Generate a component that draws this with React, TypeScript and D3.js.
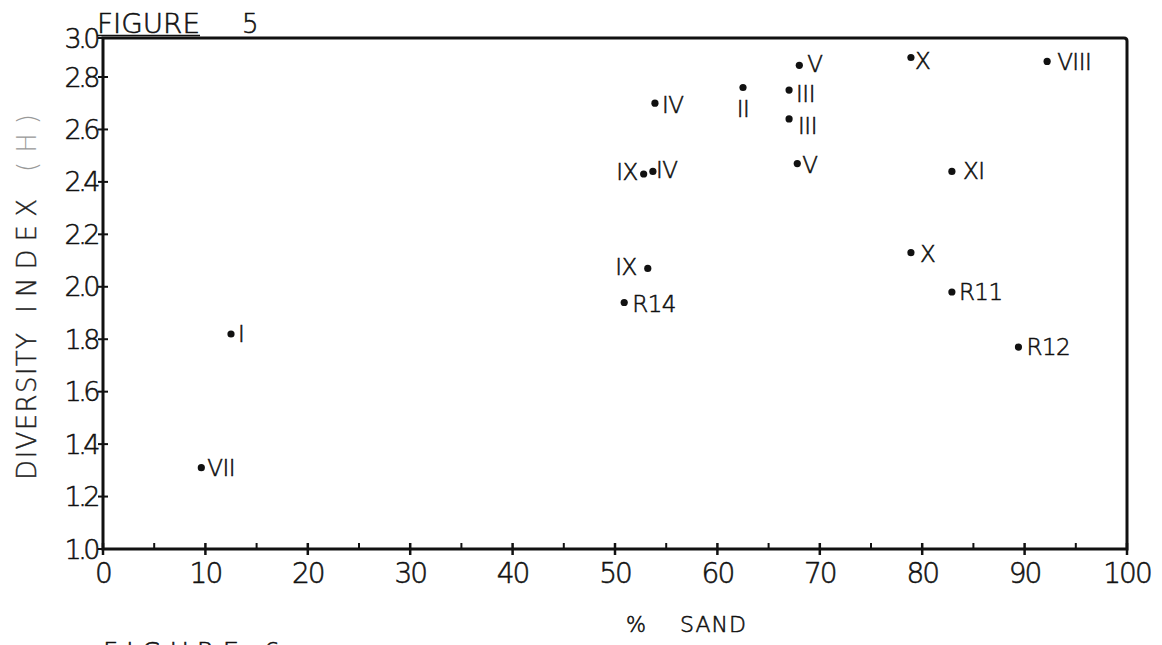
import React from "react";
import * as d3 from "d3";

// ---- data ----
const stationLabels = ["I", "VII", "IV", "II", "V", "III", "III", "V", "IX", "IV", "IX", "R14", "X", "R11", "R12", "X", "VIII", "XI"];
const sandPct = [12.5, 9.6, 53.9, 62.5, 68.0, 67.0, 67.0, 67.8, 52.8, 53.7, 53.2, 50.9, 78.9, 82.9, 89.4, 78.9, 92.2, 82.9];
const diversityH = [1.82, 1.31, 2.70, 2.76, 2.86, 2.75, 2.64, 2.47, 2.43, 2.44, 2.07, 1.94, 2.13, 1.98, 1.77, 2.90, 2.88, 2.44];

const xTickValues = [0, 10, 20, 30, 40, 50, 60, 70, 80, 90, 100];
const xMinorTickValues = [5, 15, 25, 35, 45, 55, 65, 75, 85, 95];
const yTickValues = [1.0, 1.2, 1.4, 1.6, 1.8, 2.0, 2.2, 2.4, 2.6, 2.8, 3.0];
const yTickLabels = ["1.0", "1.2", "1.4", "1.6", "1.8", "2.0", "2.2", "2.4", "2.6", "2.8", "3.0"];

// label placement for each point (layout only)
const labelPlacement: { dx: number; dy: number; anchor: "start" | "end" | "middle" }[] = [
  { dx: 7, dy: 0, anchor: "start" },
  { dx: 6, dy: 0, anchor: "start" },
  { dx: 7, dy: 1, anchor: "start" },
  { dx: 0, dy: 21, anchor: "middle" },
  { dx: 8, dy: -2, anchor: "start" },
  { dx: 7, dy: 4, anchor: "start" },
  { dx: 9, dy: 7, anchor: "start" },
  { dx: 5, dy: 1, anchor: "start" },
  { dx: -6, dy: -2, anchor: "end" },
  { dx: 3, dy: -2, anchor: "start" },
  { dx: -11, dy: -2, anchor: "end" },
  { dx: 8, dy: 1, anchor: "start" },
  { dx: 9, dy: 1, anchor: "start" },
  { dx: 7, dy: 0, anchor: "start" },
  { dx: 8, dy: 0, anchor: "start" },
  { dx: 4, dy: 3, anchor: "start" },
  { dx: 10, dy: 0, anchor: "start" },
  { dx: 11, dy: -1, anchor: "start" },
];

const W = 1162;
const H = 645;
const FONT = "'DejaVu Sans', 'Open Sans', sans-serif";
const INK = "#111";

export default function App() {
  const x = d3.scaleLinear().domain([0, 100]).range([103, 1127]);
  // hand-drawn axis: the top interval is compressed
  const y = d3.scaleLinear().domain([1.0, 2.8, 3.0]).range([549, 77, 38]);

  const [x0, x1] = x.range();
  const yBottom = y(1.0);
  const yTop = y(3.0);

  const labelFs = 23;
  const capShift = labelFs * 0.36;
  const ink = { fill: INK, stroke: INK, strokeWidth: 0.55 };

  return (
    <svg
      width={W}
      height={H}
      style={{ position: "absolute", left: 0, top: 0, display: "block", background: "#fff" }}
      fontFamily={FONT}
      fontWeight={200}
    >
      <rect x={0} y={0} width={W} height={H} fill="#fff" />

      {/* frame */}
      <path
        d={`M${x0},${yBottom} L${x0},${yTop} L${x1 - 3},${yTop} Q${x1},${yTop} ${x1},${yTop + 3} L${x1},${yBottom} Z`}
        fill="none"
        stroke={INK}
        strokeWidth={3}
      />

      {/* y ticks */}
      {yTickValues.map((v, i) => (
        <g key={"yt" + i}>
          <line x1={x0 - 5} x2={x0 + 5} y1={y(v)} y2={y(v)} stroke={INK} strokeWidth={2} />
          <text x={x0 - 6} y={y(v) + 9.5} textAnchor="end" fontSize={27} letterSpacing={-3.5} {...ink}>
            {yTickLabels[i]}
          </text>
        </g>
      ))}

      {/* x ticks */}
      {xTickValues.map((v, i) => (
        <g key={"xt" + i}>
          <line x1={x(v)} x2={x(v)} y1={yBottom - 6} y2={yBottom + 6} stroke={INK} strokeWidth={2.5} />
          <text x={x(v)} y={583} textAnchor="middle" fontSize={28} letterSpacing={-2} {...ink}>
            {String(v)}
          </text>
        </g>
      ))}
      {xMinorTickValues.map((v, i) => (
        <line key={"xm" + i} x1={x(v)} x2={x(v)} y1={yBottom - 6} y2={yBottom} stroke={INK} strokeWidth={2} />
      ))}

      {/* points and labels */}
      {sandPct.map((s, i) => {
        const px = x(s);
        const py = y(diversityH[i]);
        const p = labelPlacement[i];
        return (
          <g key={"pt" + i}>
            <circle cx={px} cy={py} r={3.6} fill={INK} />
            <text
              x={px + p.dx}
              y={py + p.dy + capShift}
              textAnchor={p.anchor}
              fontSize={labelFs}
              letterSpacing={-0.5}
              {...ink}
            >
              {stationLabels[i]}
            </text>
          </g>
        );
      })}

      {/* title */}
      <text x={97} y={33} fontSize={26} textLength={103} lengthAdjust="spacingAndGlyphs" {...ink}>
        FIGURE
      </text>
      <line x1={97} x2={200} y1={35.5} y2={35.5} stroke={INK} strokeWidth={1.5} />
      <text x={242} y={33} fontSize={26} {...ink}>
        5
      </text>

      {/* x axis title */}
      <text x={636} y={632} textAnchor="middle" fontSize={21} {...ink}>
        %
      </text>
      <text x={680} y={632} fontSize={22} textLength={66} lengthAdjust="spacing" {...ink}>
        SAND
      </text>

      {/* y axis title */}
      <g transform="rotate(-90)">
        <text x={-480} y={36} fontSize={26} textLength={147} lengthAdjust="spacing" fill="#222" stroke="#222" strokeWidth={0.4}>
          DIVERSITY
        </text>
        <text x={-313} y={36} fontSize={26} textLength={114} lengthAdjust="spacing" fill="#222" stroke="#222" strokeWidth={0.4}>
          INDEX
        </text>
        <text x={-172} y={36} fontSize={26} textLength={58} lengthAdjust="spacing" fill="#999">
          (H)
        </text>
      </g>

      {/* partially visible caption of the next figure, cut by the page edge as in the scan */}
      <text x={103} y={662} fontSize={26} letterSpacing={8} {...ink}>
        FIGURE 6
      </text>
    </svg>
  );
}
